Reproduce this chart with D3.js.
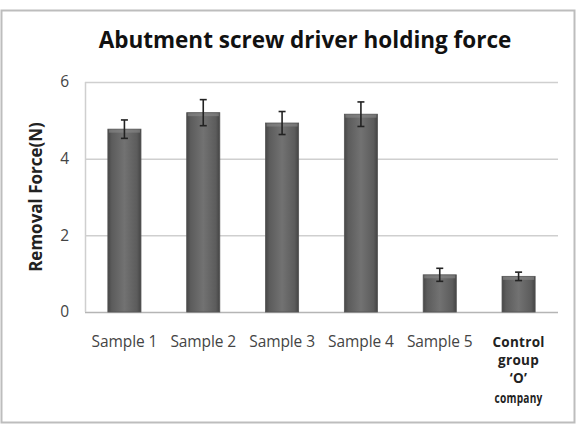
<!DOCTYPE html>
<html>
<head>
<meta charset="utf-8">
<script src="https://cdn.jsdelivr.net/npm/d3@7"></script>
<style>
    body { margin: 0; background: #fff; }
    svg { font-family: "Open Sans", "DejaVu Sans", sans-serif; }
</style>
</head>
<body>
<div id="chart"></div>
<script>
// data
const categories = ["Sample 1", "Sample 2", "Sample 3", "Sample 4", "Sample 5", "Control group 'O' company"];
const labelLines = [["Sample 1"], ["Sample 2"], ["Sample 3"], ["Sample 4"], ["Sample 5"], ["Control", "group", "\u2018O\u2019", "company"]];
const means = [4.77, 5.2, 4.93, 5.16, 0.97, 0.93];
const errors = [0.24, 0.34, 0.3, 0.32, 0.17, 0.11];
const yTicks = [0, 2, 4, 6];

const W = 579, H = 426;
const margin = {top: 82, right: 21, bottom: 114, left: 85};
const width = W - margin.left - margin.right;
const height = H - margin.top - margin.bottom;

const svg = d3.select("#chart").append("svg")
    .attr("width", W)
    .attr("height", H);

// outer frame
svg.append("rect")
    .attr("x", 1.5).attr("y", 10.5)
    .attr("width", 573).attr("height", 412)
    .attr("fill", "#fff")
    .attr("stroke", "#bdbdbd")
    .attr("stroke-width", 2);

// bar gradient
const defs = svg.append("defs");
const grad = defs.append("linearGradient").attr("id", "barGrad")
    .attr("x1", "0%").attr("x2", "100%").attr("y1", "0%").attr("y2", "0%");
grad.append("stop").attr("offset", "0%").attr("stop-color", "#474747");
grad.append("stop").attr("offset", "12%").attr("stop-color", "#5c5c5c");
grad.append("stop").attr("offset", "50%").attr("stop-color", "#727272");
grad.append("stop").attr("offset", "88%").attr("stop-color", "#5c5c5c");
grad.append("stop").attr("offset", "100%").attr("stop-color", "#444");

const g = svg.append("g")
    .attr("transform", `translate(${margin.left},${margin.top})`);

const x = d3.scaleBand()
    .domain(categories)
    .range([0, width])
    .paddingInner(0.58)
    .paddingOuter(0.29);

const y = d3.scaleLinear()
    .domain([0, 6])
    .range([height, 0]);

// gridlines
g.selectAll(".grid")
    .data(yTicks)
    .enter().append("line")
    .attr("x1", 0).attr("x2", width)
    .attr("y1", d => y(d) + 0.5).attr("y2", d => y(d) + 0.5)
    .attr("stroke", d => d === 0 ? "#b5b5b5" : "#cfcfcf")
    .attr("stroke-width", 1.5);

// left axis line
g.append("line")
    .attr("x1", 0.5).attr("x2", 0.5)
    .attr("y1", 0).attr("y2", height)
    .attr("stroke", "#cfcfcf")
    .attr("stroke-width", 1.5);

// y tick labels
const yAxis = g.append("g")
    .call(d3.axisLeft(y).tickValues(yTicks).tickSize(0).tickPadding(16).tickFormat(d3.format("d")));
yAxis.select(".domain").remove();
yAxis.selectAll("text")
    .attr("font-size", 15.5)
    .attr("fill", "#444")
    .attr("font-family", "\"Open Sans\", sans-serif");

// bars
g.selectAll(".bar")
    .data(means)
    .enter().append("rect")
    .attr("class", "bar")
    .attr("x", (d, i) => x(categories[i]))
    .attr("y", d => y(d))
    .attr("width", x.bandwidth())
    .attr("height", d => height - y(d))
    .attr("fill", "url(#barGrad)")
    .attr("stroke", "#555")
    .attr("stroke-width", 0.8);

// light top highlight
g.selectAll(".cap")
    .data(means)
    .enter().append("rect")
    .attr("x", (d, i) => x(categories[i]) + 1)
    .attr("y", d => y(d) + 0.5)
    .attr("width", x.bandwidth() - 2)
    .attr("height", 3)
    .attr("fill", "#8a8a8a")
    .attr("opacity", 0.6);

// error bars
const eb = g.selectAll(".err")
    .data(means)
    .enter().append("g")
    .attr("transform", (d, i) => `translate(${x(categories[i]) + x.bandwidth() / 2},0)`);
eb.append("line")
    .attr("y1", (d, i) => y(d + errors[i]))
    .attr("y2", (d, i) => y(d - errors[i]))
    .attr("stroke", "#222").attr("stroke-width", 1.6);
eb.append("line")
    .attr("x1", -3.5).attr("x2", 3.5)
    .attr("y1", (d, i) => y(d + errors[i])).attr("y2", (d, i) => y(d + errors[i]))
    .attr("stroke", "#222").attr("stroke-width", 1.6);
eb.append("line")
    .attr("x1", -3.5).attr("x2", 3.5)
    .attr("y1", (d, i) => y(d - errors[i])).attr("y2", (d, i) => y(d - errors[i]))
    .attr("stroke", "#222").attr("stroke-width", 1.6);

// x labels
const lineDy = [0, 18, 18, 20];
const xl = g.selectAll(".xlab")
    .data(categories)
    .enter().append("text")
    .attr("text-anchor", "middle")
    .attr("transform", d => `translate(${x(d) + x.bandwidth() / 2},${height + 35})`)
    .attr("font-size", (d, i) => i === 5 ? 13.5 : 15.5)
    .attr("font-weight", (d, i) => i === 5 ? "bold" : "normal")
    .attr("fill", (d, i) => i === 5 ? "#222" : "#444")
    .attr("letter-spacing", (d, i) => i === 5 ? 0.3 : -0.1);
xl.selectAll("tspan")
    .data((d, i) => labelLines[i])
    .enter().append("tspan")
    .attr("x", 0)
    .attr("dy", (d, i) => lineDy[i])
    .attr("textLength", d => d === "company" ? 48 : null)
    .attr("lengthAdjust", "spacingAndGlyphs")
    .text(d => d);

// y axis title
svg.append("text")
    .attr("transform", `translate(42,${margin.top + height / 2}) rotate(-90)`)
    .attr("text-anchor", "middle")
    .attr("font-size", 17)
    .attr("font-weight", "bold")
    .attr("fill", "#222")
    .text("Removal Force(N)");

// chart title
svg.append("text")
    .attr("x", 305)
    .attr("y", 48)
    .attr("text-anchor", "middle")
    .attr("font-size", 22.5)
    .attr("font-weight", "bold")
    .attr("fill", "#111")
    .text("Abutment screw driver holding force");
</script>
</body>
</html>
